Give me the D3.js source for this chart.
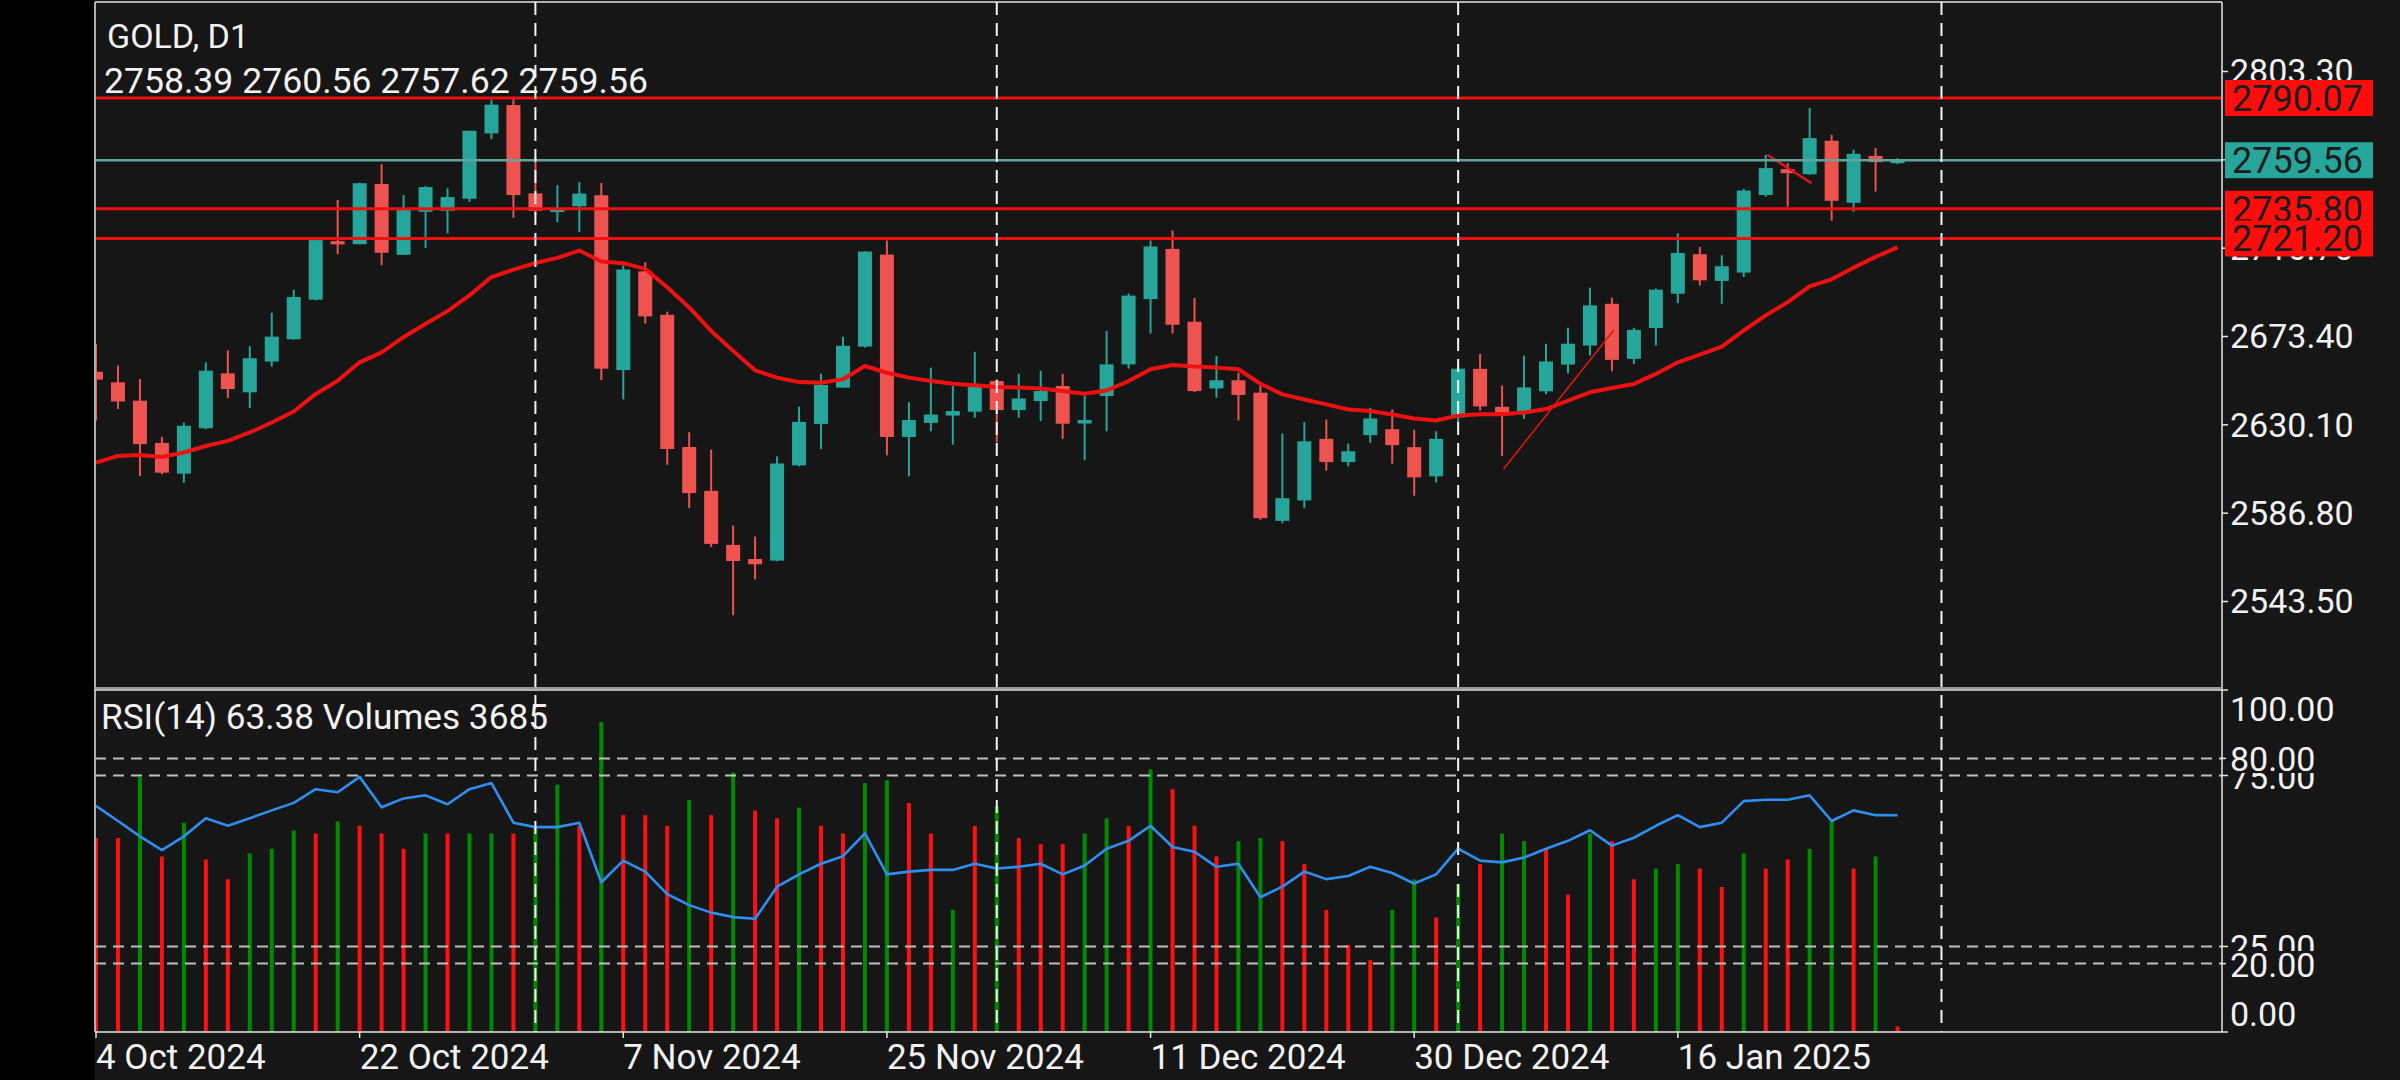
<!DOCTYPE html>
<html><head><meta charset="utf-8">
<script src="https://cdn.jsdelivr.net/npm/d3@7"></script>
<style>html,body{margin:0;padding:0;background:#161616;overflow:hidden;} svg{display:block;}</style>
</head><body>
<svg id="c" width="2400" height="1080"></svg>
<script>
// ---------------- DATA ----------------
const dates = ["2024-10-04","2024-10-07","2024-10-08","2024-10-09","2024-10-10","2024-10-11","2024-10-14","2024-10-15","2024-10-16","2024-10-17","2024-10-18","2024-10-21","2024-10-22","2024-10-23","2024-10-24","2024-10-25","2024-10-28","2024-10-29","2024-10-30","2024-10-31","2024-11-01","2024-11-04","2024-11-05","2024-11-06","2024-11-07","2024-11-08","2024-11-11","2024-11-12","2024-11-13","2024-11-14","2024-11-15","2024-11-18","2024-11-19","2024-11-20","2024-11-21","2024-11-22","2024-11-25","2024-11-26","2024-11-27","2024-11-28","2024-11-29","2024-12-02","2024-12-03","2024-12-04","2024-12-05","2024-12-06","2024-12-09","2024-12-10","2024-12-11","2024-12-12","2024-12-13","2024-12-16","2024-12-17","2024-12-18","2024-12-19","2024-12-20","2024-12-23","2024-12-24","2024-12-26","2024-12-27","2024-12-30","2024-12-31","2025-01-02","2025-01-03","2025-01-06","2025-01-07","2025-01-08","2025-01-09","2025-01-10","2025-01-13","2025-01-14","2025-01-15","2025-01-16","2025-01-17","2025-01-20","2025-01-21","2025-01-22","2025-01-23","2025-01-24","2025-01-27","2025-01-28","2025-01-29","2025-01-30"];
const open  = [2655.9,2650.7,2641.7,2621.0,2605.9,2628.2,2655.1,2645.8,2660.9,2671.8,2691.2,2719.9,2718.4,2747.9,2713.2,2734.3,2734.8,2740.7,2772.7,2786.6,2743.3,2735.0,2737.0,2742.4,2656.7,2705.1,2683.8,2619.0,2597.5,2571.0,2564.1,2563.3,2610.0,2630.3,2648.1,2668.2,2713.3,2623.9,2630.8,2634.4,2636.3,2651.3,2637.1,2641.5,2648.9,2630.5,2644.0,2659.5,2691.5,2716.1,2680.4,2647.7,2651.7,2645.6,2582.8,2592.8,2623.0,2611.6,2624.8,2627.7,2618.9,2604.6,2633.5,2657.3,2638.7,2635.6,2646.3,2659.4,2668.7,2689.2,2662.2,2677.3,2694.1,2713.5,2700.4,2704.5,2742.5,2755.2,2752.7,2769.1,2738.7,2761.7,2758.39];
const high  = [2669.5,2658.9,2652.3,2624.0,2631.0,2660.5,2666.3,2668.4,2684.8,2696.1,2721.0,2740.1,2748.6,2757.6,2742.5,2746.9,2745.8,2774.0,2789.3,2790.07,2761.4,2747.3,2748.9,2748.4,2707.9,2709.6,2685.3,2626.2,2617.7,2580.5,2575.1,2614.4,2638.7,2654.9,2673.0,2715.0,2720.2,2641.0,2657.9,2648.9,2665.6,2652.2,2654.9,2656.3,2654.9,2644.0,2675.9,2694.3,2720.2,2725.1,2692.0,2663.6,2655.4,2648.9,2625.6,2631.2,2632.5,2620.7,2638.2,2637.4,2627.4,2626.7,2659.5,2664.6,2649.1,2663.8,2669.6,2677.4,2697.1,2692.2,2677.4,2696.6,2723.7,2717.1,2713.0,2745.5,2762.2,2758.1,2785.2,2772.0,2764.7,2765.5,2760.56];
const low   = [2631.8,2637.6,2604.7,2605.6,2601.4,2627.7,2643.0,2638.1,2658.4,2671.5,2690.9,2713.5,2718.3,2708.1,2713.2,2716.6,2723.7,2739.2,2769.9,2731.4,2732.7,2729.2,2724.3,2651.8,2642.3,2679.5,2610.3,2589.0,2570.0,2536.5,2554.1,2563.0,2609.5,2618.0,2648.0,2667.7,2614.9,2604.6,2626.7,2620.2,2633.3,2621.3,2633.3,2631.7,2623.0,2612.5,2626.7,2657.4,2674.6,2674.6,2645.9,2643.1,2632.0,2583.3,2581.6,2589.0,2607.4,2609.5,2621.0,2610.8,2595.1,2601.6,2630.4,2636.8,2614.6,2632.7,2644.9,2655.1,2663.8,2656.1,2659.7,2668.7,2689.5,2698.2,2689.2,2702.3,2741.7,2736.8,2752.5,2729.9,2734.3,2744.2,2757.62];
const close = [2652.0,2641.3,2620.4,2606.4,2629.4,2656.4,2647.4,2662.5,2673.1,2692.5,2720.4,2718.3,2748.3,2714.2,2735.1,2746.4,2741.5,2774.0,2786.8,2742.5,2734.8,2735.6,2743.2,2657.4,2706.0,2683.0,2618.0,2596.4,2571.5,2563.1,2561.5,2610.9,2631.3,2649.4,2668.6,2714.8,2623.9,2632.2,2634.9,2636.6,2648.4,2637.1,2642.8,2646.4,2630.4,2632.2,2659.5,2693.2,2717.3,2678.9,2646.4,2651.7,2644.5,2584.1,2593.9,2621.8,2611.6,2616.9,2633.0,2619.9,2604.1,2623.0,2657.4,2638.9,2635.9,2648.2,2660.9,2669.6,2688.4,2661.7,2676.4,2696.1,2714.1,2700.7,2707.6,2744.7,2755.7,2753.2,2770.4,2739.7,2762.7,2758.6,2759.56];
const movingAverage = [2611.3,2614.6,2615.1,2614.1,2616.3,2619.5,2622.0,2626.1,2631.0,2636.4,2645.0,2651.5,2660.5,2665.4,2672.8,2679.4,2685.6,2693.3,2702.3,2705.9,2709.2,2711.7,2715.3,2709.9,2709.1,2706.3,2697.3,2687.4,2675.9,2666.1,2656.6,2653.0,2650.8,2650.5,2652.2,2658.7,2655.4,2653.0,2651.3,2650.0,2649.2,2648.4,2648.1,2647.7,2646.4,2645.1,2646.7,2651.3,2657.1,2659.2,2658.4,2657.9,2657.1,2650.0,2644.8,2642.3,2639.9,2637.4,2636.6,2634.9,2633.0,2632.0,2634.4,2635.1,2635.1,2635.9,2637.6,2641.7,2645.8,2647.9,2649.9,2654.8,2660.5,2664.3,2668.2,2676.1,2683.5,2690.0,2697.7,2701.2,2706.9,2712.2,2716.8];
const rsi14 = [66.1,61.7,57.2,53.2,57.2,62.5,60.3,62.5,64.8,67.0,71.0,70.1,74.6,65.7,68.3,69.2,66.6,71.0,72.8,61.2,59.9,59.9,61.2,43.8,50.1,46.9,40.3,37.1,34.9,33.6,33.1,42.5,46.1,49.2,51.4,58.1,46.1,46.9,47.4,47.4,49.2,47.8,48.3,49.2,46.1,48.7,53.6,55.9,60.3,54.1,52.7,48.3,49.2,39.4,42.5,46.9,44.7,45.6,48.3,46.5,43.4,46.1,53.6,50.1,49.6,51.0,53.6,55.9,59.0,54.5,56.8,60.3,63.4,59.9,61.2,67.5,67.9,67.9,69.2,61.7,64.8,63.4,63.38];
const volumes = [127000,127000,167000,115000,137000,113000,100000,117000,120000,132000,130000,138000,135000,130000,120000,130000,130000,130000,130000,130000,135000,162000,135000,203000,142000,142000,135000,152000,142000,170000,145000,140000,147000,135000,130000,163000,165000,150000,130000,80000,135000,148000,127000,123000,123000,130000,140000,135000,172000,159000,135000,115000,125000,127000,125000,110000,80000,57000,47000,80000,100000,75000,97000,110000,130000,125000,120000,90000,130000,125000,100000,107000,110000,107000,95000,117000,107000,113000,120000,138000,107000,115000,3685];
const volumeRising = [0,0,1,0,1,0,0,1,1,1,0,1,0,0,0,1,0,1,1,0,1,1,0,1,0,0,0,1,0,1,0,0,1,0,0,1,1,0,0,1,0,1,0,0,0,1,1,0,1,0,0,0,1,1,0,0,0,0,0,1,1,0,1,0,1,1,0,0,1,0,0,1,1,0,0,1,0,0,1,1,0,1,0];
const priceTicks = [2543.50, 2586.80, 2630.10, 2673.40, 2716.70, 2760.00, 2803.30];
const rsiTicks = [0, 20, 25, 75, 80, 100];
const rsiLevels = [20, 25, 75, 80];
const redLevels = [2790.07, 2735.80, 2721.20];
const lastPrice = 2759.56;
const dateLabelIndex = [0, 12, 24, 36, 48, 60, 72];
const dateLabels = ["4 Oct 2024","22 Oct 2024","7 Nov 2024","25 Nov 2024","11 Dec 2024","30 Dec 2024","16 Jan 2025"];
const separatorIndex = [20, 41, 62, 84];
const trendLines = [
  [[64.06, 2608.1], [69.09, 2676.4]],
  [[76.07, 2762.2], [78.09, 2748.3]]
];
const symbolTitle = "GOLD, D1";
const ohlcText = "2758.39 2760.56 2757.62 2759.56";
const subTitle = "RSI(14) 63.38 Volumes 3685";

// ---------------- LAYOUT ----------------
const W = 2400, H = 1080;
const L = 95, R = 2222, T = 2, MB = 688, RT = 690, B = 1032;
const UP = "#26a69a", DN = "#ef5350", LINE_RED = "#f01010";
const FONT = "Roboto, 'Noto Sans', sans-serif";

const svg = d3.select("#c");
svg.append("rect").attr("width", W).attr("height", H).attr("fill", "#161616");
svg.append("rect").attr("x", 0).attr("y", 0).attr("width", L).attr("height", H).attr("fill", "#000");

const x = d3.scaleLinear().domain([0, 100]).range([96, 96 + 2197]);
const y = d3.scaleLinear().domain([2543.5, 2803.3]).range([601, 71]);
const yR = d3.scaleLinear().domain([0, 100]).range([B, RT]);
const yV = d3.scaleLinear().domain([0, 224000]).range([B, RT]);

const defs = svg.append("defs");
defs.append("clipPath").attr("id", "cm").append("rect").attr("x", L + 1).attr("y", T).attr("width", R - L - 1).attr("height", MB - T);
defs.append("clipPath").attr("id", "cr").append("rect").attr("x", L + 1).attr("y", RT).attr("width", R - L - 1).attr("height", B - RT);

const bars = dates.map((d, i) => ({i, d, o: open[i], h: high[i], l: low[i], c: close[i]}));

// ---------------- MAIN PANEL ----------------
const gm = svg.append("g").attr("clip-path", "url(#cm)");
const cg = gm.append("g");
cg.selectAll("line.w").data(bars).join("line")
  .attr("x1", d => x(d.i)).attr("x2", d => x(d.i))
  .attr("y1", d => y(d.h)).attr("y2", d => y(d.l))
  .attr("stroke", d => d.c >= d.o ? UP : DN).attr("stroke-width", 2);
cg.selectAll("rect.b").data(bars).join("rect")
  .attr("x", d => x(d.i) - 7).attr("width", 14)
  .attr("y", d => y(Math.max(d.o, d.c)))
  .attr("height", d => Math.max(3, Math.abs(y(d.o) - y(d.c))))
  .attr("fill", d => d.c >= d.o ? UP : DN);

// moving average
gm.append("path").datum(movingAverage)
  .attr("d", d3.line().x((v, i) => x(i)).y(v => y(v)))
  .attr("fill", "none").attr("stroke", "#ee1111").attr("stroke-width", 4).attr("stroke-linejoin", "round");

// trend lines
trendLines.forEach((t, k) => {
  gm.append("line").attr("x1", x(t[0][0])).attr("y1", y(t[0][1])).attr("x2", x(t[1][0])).attr("y2", y(t[1][1]))
    .attr("stroke", "#e01515").attr("stroke-width", k === 0 ? 1.6 : 2.4);
});

// horizontal price lines
gm.selectAll("line.lv").data(redLevels).join("line")
  .attr("x1", L).attr("x2", R).attr("y1", d => y(d)).attr("y2", d => y(d))
  .attr("stroke", LINE_RED).attr("stroke-width", 3);
gm.append("line").attr("x1", L).attr("x2", R).attr("y1", y(lastPrice)).attr("y2", y(lastPrice))
  .attr("stroke", "#62a39c").attr("stroke-width", 2.5);

// ---------------- RSI / VOLUMES PANEL ----------------
const gr = svg.append("g").attr("clip-path", "url(#cr)");
gr.selectAll("rect.v").data(volumes).join("rect")
  .attr("x", (v, i) => x(i) - 2).attr("width", 4)
  .attr("y", v => yV(v)).attr("height", v => B - yV(v))
  .attr("fill", (v, i) => volumeRising[i] ? "#008a00" : "#ff1010");
gr.selectAll("line.lvl").data(rsiLevels).join("line")
  .attr("x1", L).attr("x2", R).attr("y1", d => yR(d)).attr("y2", d => yR(d))
  .attr("stroke", "#bdbdbd").attr("stroke-width", 2).attr("stroke-dasharray", "11,7");
gr.append("path").datum(rsi14)
  .attr("d", d3.line().x((v, i) => x(i)).y(v => yR(v)))
  .attr("fill", "none").attr("stroke", "#2f8ff0").attr("stroke-width", 2.6).attr("stroke-linejoin", "round");

// month separators (span both panels)
svg.append("g").selectAll("line").data(separatorIndex).join("line")
  .attr("x1", d => x(d)).attr("x2", d => x(d)).attr("y1", T).attr("y2", B)
  .attr("stroke", "#f2f2f2").attr("stroke-width", 2).attr("stroke-dasharray", "13,8");

// ---------------- FRAME ----------------
const fr = svg.append("g").attr("stroke", "#e6e6e6").attr("stroke-width", 1.5);
fr.append("line").attr("x1", L).attr("x2", R).attr("y1", T).attr("y2", T);
fr.append("line").attr("x1", L).attr("x2", L).attr("y1", T).attr("y2", B);
fr.append("line").attr("x1", R).attr("x2", R).attr("y1", T).attr("y2", B);
fr.append("line").attr("x1", L).attr("x2", R).attr("y1", MB).attr("y2", MB).attr("stroke", "#9a9a9a").attr("stroke-width", 2);
fr.append("line").attr("x1", L).attr("x2", R).attr("y1", RT).attr("y2", RT);
fr.append("line").attr("x1", L).attr("x2", R).attr("y1", B).attr("y2", B);

// ---------------- AXES ----------------
const axisPrice = d3.axisRight(y).tickValues(priceTicks).tickSize(6).tickFormat(d3.format(".2f"));
const ap = svg.append("g").attr("transform", `translate(${R},0)`).call(axisPrice);
ap.select(".domain").remove();
ap.selectAll("line").attr("stroke", "#e6e6e6").attr("stroke-width", 1.5);
ap.selectAll("text").attr("fill", "#f2f2f2").attr("font-family", FONT).attr("font-size", 34).attr("x", 8).attr("dy", "0.35em");

// price label boxes
function priceBox(v, fill) {
  const g = svg.append("g");
  g.append("rect").attr("x", 2225).attr("y", y(v) - 18).attr("width", 148).attr("height", 36).attr("fill", fill);
  g.append("text").attr("x", 2232).attr("y", y(v)).attr("dy", "0.36em").attr("font-family", FONT).attr("font-size", 36)
    .attr("fill", "#1c1c1c").text(d3.format(".2f")(v));
}
priceBox(2790.07, "#ff0d0d");
priceBox(lastPrice, "#26a69a");
priceBox(2735.80, "#ff0d0d");
priceBox(2721.20, "#ff0d0d");

// RSI axis
const rsiLabelY = {100: 709, 80: 759, 75: 777, 25: 947, 20: 965, 0: 1014};
const ra = svg.append("g");
ra.selectAll("line").data(rsiTicks).join("line")
  .attr("x1", R).attr("x2", R + 6).attr("y1", d => yR(d)).attr("y2", d => yR(d))
  .attr("stroke", "#e6e6e6").attr("stroke-width", 1.5);
[100, 75, 25, 0, 80, 20].forEach(v => {
  if (v === 80 || v === 20) {
    ra.append("rect").attr("x", R + 4).attr("y", rsiLabelY[v] - 14).attr("width", 110).attr("height", 28).attr("fill", "#161616");
  }
  ra.append("text").attr("x", R + 8).attr("y", rsiLabelY[v]).attr("dy", "0.36em")
    .attr("font-family", FONT).attr("font-size", 34).attr("fill", "#f2f2f2").text(d3.format(".2f")(v));
});

// date axis
const xa = svg.append("g");
xa.selectAll("line").data(dateLabelIndex).join("line")
  .attr("x1", d => x(d)).attr("x2", d => x(d)).attr("y1", B).attr("y2", B + 6)
  .attr("stroke", "#e6e6e6").attr("stroke-width", 1.5);
xa.selectAll("text").data(dateLabelIndex).join("text")
  .attr("x", d => x(d)).attr("y", 1069)
  .attr("font-family", FONT).attr("font-size", 35).attr("fill", "#f2f2f2")
  .text((d, k) => dateLabels[k]);

// ---------------- TITLES ----------------
svg.append("text").attr("x", 107).attr("y", 48).attr("font-family", FONT).attr("font-size", 34).attr("fill", "#f2f2f2").text(symbolTitle);
svg.append("text").attr("x", 104).attr("y", 93).attr("font-family", FONT).attr("font-size", 35.6).attr("fill", "#f2f2f2").text(ohlcText);
svg.append("text").attr("x", 101).attr("y", 729).attr("font-family", FONT).attr("font-size", 35.2).attr("fill", "#f2f2f2").text(subTitle);
</script>
</body></html>
